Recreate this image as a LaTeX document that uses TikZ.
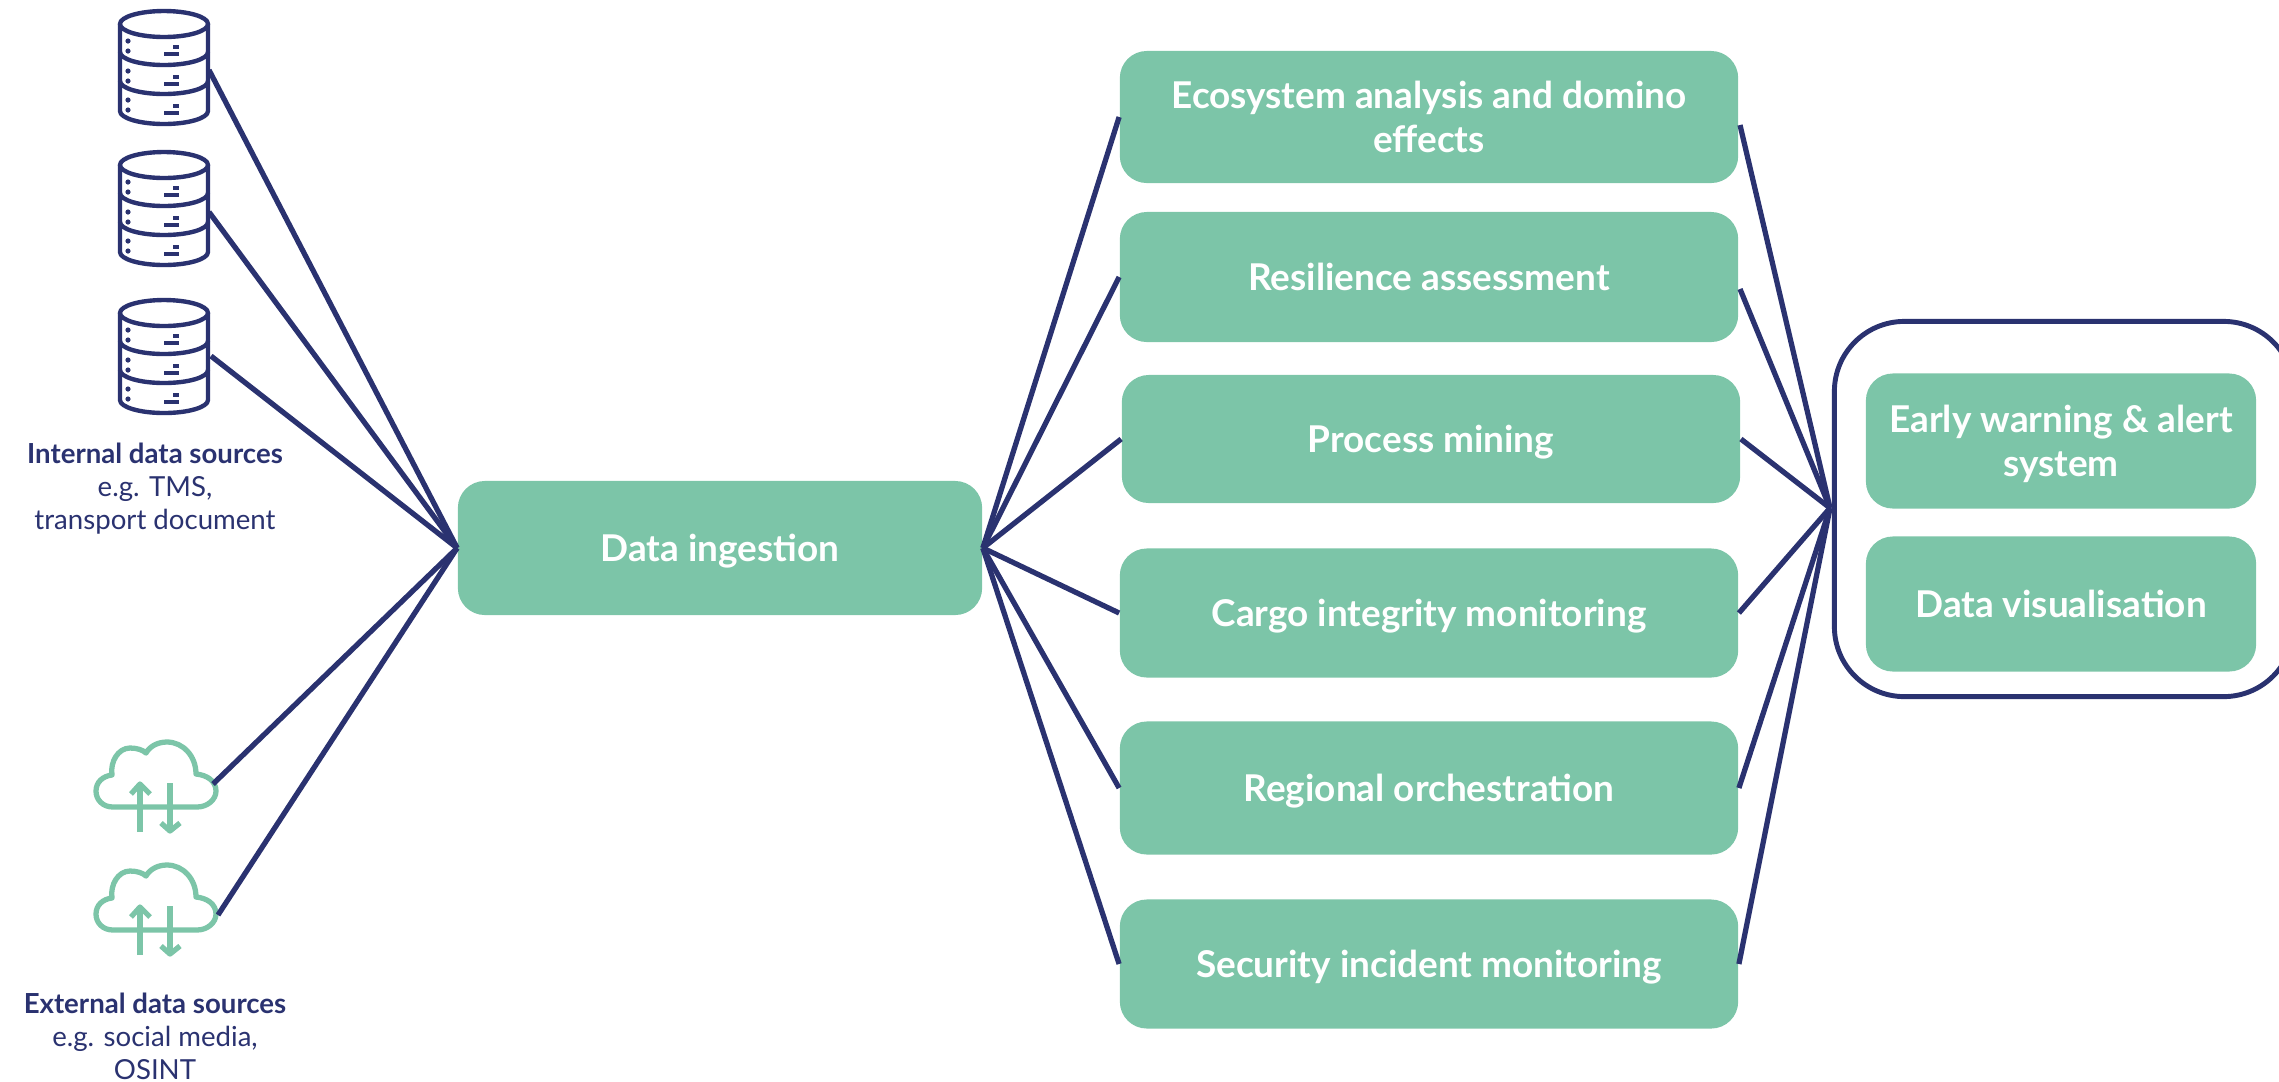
\documentclass[tikz,border=0pt]{standalone}
\usepackage{fontspec}
\setmainfont{Lato}
\definecolor{navy}{HTML}{2A3270}
\definecolor{mint}{HTML}{7CC5A8}
\tikzset{
  box/.style={fill=mint, rounded corners=0.27cm, text=white, align=center, inner sep=0pt, font=\fontsize{10.5}{12.5}\selectfont\bfseries},
  onelinebox/.style={box, text height=7.7pt, text depth=0pt},
  link/.style={draw=navy, line width=1.5pt},
  srctext/.style={text=navy, align=center, inner sep=0pt, font=\fontsize{7.85}{9.4}\selectfont},
  dbicon/.pic={
    \draw[navy, line width=1.25pt, line join=round] (0,0) ellipse (44 and 13);
    \draw[navy, line width=1.25pt, line join=round] (-44,0) -- (-44,87) arc (180:0:44 and 13) -- (44,0);
    \foreach \y in {28,57} {
      \draw[navy, line width=1.25pt] (-44,\y) arc (180:0:44 and 13);
    }
    \foreach \y in {0,30,59} {
      \fill[navy] (-36,17+\y) circle (2.6);
      \fill[navy] (-36,27+\y) circle (2.6);
      \draw[navy, line width=1pt] (9,23+\y) -- (15,23+\y);
      \draw[navy, line width=1pt] (0,30+\y) -- (15,30+\y);
    }
  },
  cloudicon/.pic={
    \draw[mint, line width=1.5pt, line join=round] (42,37) -- (-42,37) .. controls (-52,37) and (-59,30) .. (-59,21) .. controls (-59,12) and (-52,6) .. (-43,5) .. controls (-45,-8) and (-37,-22) .. (-25,-22) .. controls (-18,-22) and (-12,-20) .. (-9,-17) .. controls (-5,-24) and (3,-28) .. (12,-28) .. controls (28,-28) and (41,-14) .. (41,4) .. controls (52,5) and (61,11) .. (61,21) .. controls (61,30) and (52,37) .. (42,37) -- cycle;
    \draw[mint, line width=1.5pt] (-15,62) -- (-15,13);
    \draw[mint, line width=1.5pt, line join=round] (-24,24) -- (-15,14) -- (-5,24);
    \draw[mint, line width=1.5pt] (15,13) -- (15,62);
    \draw[mint, line width=1.5pt, line join=round] (6,53) -- (15,61) -- (25,53);
  }
}
\begin{document}
\begin{tikzpicture}[x=0.01cm, y=-0.01cm]
\clip (0,0) rectangle (2279,1081);
\pic at (164,24) {dbicon};
\pic at (164,165) {dbicon};
\pic at (164,313) {dbicon};
\pic at (155,770) {cloudicon};
\pic at (155,893) {cloudicon};
\node[srctext] (internal) at (155,489) {\textbf{Internal data sources}\\e.g. TMS,\\transport document};
\node[srctext] (external) at (155,1036) {\textbf{External data sources}\\e.g. social media,\\OSINT};
\node[onelinebox, minimum width=5.24cm, minimum height=1.34cm] (ingest) at (720,548) {Data ingestion};
\node[box, minimum width=6.18cm, minimum height=1.32cm] (ecosystem) at (1429,117) {Ecosystem analysis and domino\\effects};
\node[onelinebox, minimum width=6.18cm, minimum height=1.30cm] (resilience) at (1429,277) {Resilience assessment};
\node[onelinebox, minimum width=6.18cm, minimum height=1.28cm] (process) at (1431,439) {Process mining};
\node[onelinebox, minimum width=6.18cm, minimum height=1.29cm] (cargo) at (1429,613) {Cargo integrity monitoring};
\node[onelinebox, minimum width=6.18cm, minimum height=1.33cm] (regional) at (1429,788) {Regional orchestration};
\node[onelinebox, minimum width=6.18cm, minimum height=1.29cm] (security) at (1429,964) {Security incident monitoring};
\node[draw=navy, line width=1.4pt, rounded corners=0.7cm, minimum width=4.59cm, minimum height=3.75cm] (output) at (2064,509) {};
\node[box, minimum width=3.90cm, minimum height=1.35cm] (warning) at (2061,441) {Early warning \& alert\\\smash{system}};
\node[onelinebox, minimum width=3.90cm, minimum height=1.35cm] (visual) at (2061,604) {Data visualisation};
\coordinate (dbaout) at (209,70);
\coordinate (dbbout) at (209,212);
\coordinate (dbcout) at (211,356);
\coordinate (cloudaout) at (213,784);
\coordinate (cloudbout) at (218,915);
\coordinate (ecosystemout) at (1740,125);
\coordinate (resilienceout) at (1740,289);
\coordinate (outputin) at (1830,508);
\foreach \a in {dbaout,dbbout,dbcout,cloudaout,cloudbout} {
  \draw[link] (\a) -- (ingest.west);
}
\foreach \a in {ecosystem,resilience,process,cargo,regional,security} {
  \draw[link] (ingest.east) -- (\a.west);
}
\foreach \a in {ecosystemout,resilienceout,process.east,cargo.east,regional.east,security.east} {
  \draw[link] (\a) -- (outputin);
}
\end{tikzpicture}
\end{document}
